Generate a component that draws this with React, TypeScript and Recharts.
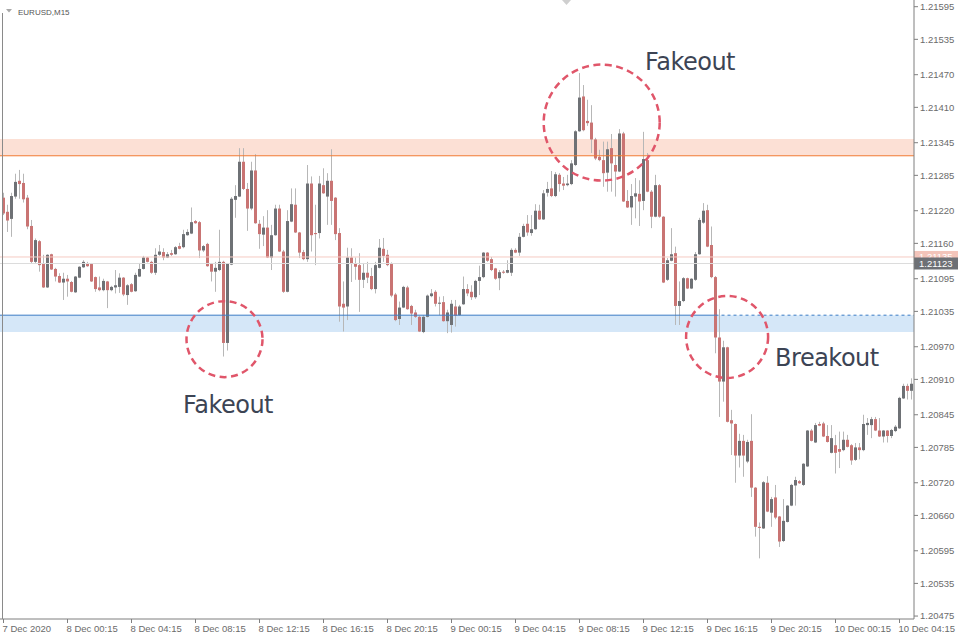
import React from 'react';
import {
  ComposedChart,
  Bar,
  XAxis,
  YAxis,
  ReferenceArea,
  ReferenceLine,
  ReferenceDot,
} from 'recharts';

// EURUSD M15 candles, 7 Dec 2020 20:15 -> 10 Dec 05:00
const OPEN = [
  1.21244, 1.21218, 1.21205, 1.21246, 1.21275, 1.21271, 1.21244, 1.21192, 1.21126, 1.21164,
  1.21122, 1.21079, 1.2114, 1.21113, 1.211, 1.21088, 1.21095, 1.21089, 1.2107, 1.21097,
  1.21116, 1.21123, 1.21122, 1.21098, 1.21079, 1.21074, 1.2109, 1.21074, 1.21079, 1.2108,
  1.21097, 1.21065, 1.21085, 1.21072, 1.21099, 1.21113, 1.21134, 1.21126, 1.21106, 1.21139,
  1.21144, 1.21134, 1.21142, 1.2114, 1.21155, 1.21153, 1.21175, 1.21178, 1.21201, 1.21199,
  1.21147, 1.21159, 1.21122, 1.21108, 1.21111, 1.21126, 1.20977, 1.21121, 1.2124, 1.21246,
  1.2131, 1.2126, 1.21224, 1.21294, 1.21196, 1.21176, 1.21189, 1.21134, 1.21175, 1.21224,
  1.21145, 1.21071, 1.212, 1.21231, 1.2118, 1.21144, 1.21131, 1.2127, 1.21179, 1.21179,
  1.21267, 1.21246, 1.21275, 1.21244, 1.21179, 1.21049, 1.21044, 1.21134, 1.21122, 1.2112,
  1.21093, 1.21106, 1.211, 1.21076, 1.21115, 1.2115, 1.21139, 1.21122, 1.21066, 1.21021,
  1.21042, 1.21079, 1.21045, 1.21033, 1.21025, 1.20997, 1.21025, 1.21063, 1.21071, 1.21049,
  1.21052, 1.21017, 1.2101, 1.21044, 1.21028, 1.21048, 1.21076, 1.21071, 1.21061, 1.21091,
  1.21098, 1.21143, 1.21131, 1.21114, 1.21096, 1.21108, 1.21106, 1.21106, 1.21148, 1.21143,
  1.21172, 1.21196, 1.21179, 1.21186, 1.2122, 1.21204, 1.21253, 1.21261, 1.21247, 1.21286,
  1.2127, 1.21267, 1.21269, 1.21304, 1.21366, 1.2143, 1.21385, 1.21382, 1.21351, 1.21319,
  1.21313, 1.2129, 1.21335, 1.21304, 1.21292, 1.21362, 1.21238, 1.21226, 1.21246, 1.21251,
  1.21238, 1.21313, 1.21255, 1.21209, 1.21267, 1.21209, 1.21093, 1.21128, 1.21142, 1.21045,
  1.21054, 1.21096, 1.21077, 1.21093, 1.2114, 1.21198, 1.21221, 1.21157, 1.21098, 1.20987,
  1.20906, 1.20969, 1.20835, 1.20828, 1.2077, 1.20797, 1.20759, 1.20797, 1.20711, 1.20639,
  1.20636, 1.2072, 1.20665, 1.20693, 1.20658, 1.20613, 1.20648, 1.20678, 1.20715, 1.20723,
  1.20716, 1.2075, 1.20816, 1.20794, 1.20828, 1.20829, 1.20806, 1.20775, 1.20789, 1.20782,
  1.2078, 1.20799, 1.20789, 1.20762, 1.20785, 1.2078, 1.20826, 1.20826, 1.20837, 1.20816,
  1.20805, 1.20816, 1.20806, 1.20815, 1.2082, 1.20875, 1.20898, 1.20889,
];

const HIGH = [
  1.21253, 1.21231, 1.21253, 1.21288, 1.21295, 1.21288, 1.21249, 1.21203, 1.21169, 1.21166,
  1.21139, 1.2114, 1.21141, 1.21115, 1.21105, 1.21106, 1.21102, 1.21091, 1.211, 1.21118,
  1.21129, 1.21126, 1.21124, 1.21099, 1.21099, 1.21095, 1.21091, 1.21082, 1.21111, 1.21105,
  1.21098, 1.21085, 1.21087, 1.21106, 1.21124, 1.21137, 1.21135, 1.21128, 1.21151, 1.21157,
  1.21151, 1.21144, 1.21148, 1.21155, 1.21161, 1.21185, 1.21186, 1.21226, 1.21203, 1.21201,
  1.21157, 1.21161, 1.21124, 1.21126, 1.21185, 1.21128, 1.21124, 1.21245, 1.21267, 1.21335,
  1.21335, 1.21271, 1.2131, 1.21324, 1.21203, 1.2121, 1.21221, 1.21194, 1.21231, 1.21231,
  1.21148, 1.21221, 1.21261, 1.21261, 1.21181, 1.21148, 1.21304, 1.21283, 1.21231, 1.21284,
  1.21298, 1.21289, 1.21333, 1.21245, 1.21188, 1.2109, 1.21152, 1.21151, 1.21134, 1.21142,
  1.21124, 1.21126, 1.21115, 1.21126, 1.21168, 1.2117, 1.21148, 1.21125, 1.21069, 1.21053,
  1.21082, 1.21082, 1.21047, 1.21038, 1.21027, 1.21028, 1.21066, 1.21076, 1.21074, 1.21062,
  1.21063, 1.21038, 1.21056, 1.21056, 1.21047, 1.21099, 1.21085, 1.21083, 1.21093, 1.21119,
  1.21144, 1.21144, 1.21135, 1.21115, 1.21111, 1.21111, 1.21129, 1.21151, 1.21151, 1.21179,
  1.21196, 1.21212, 1.21212, 1.21232, 1.21231, 1.21258, 1.21273, 1.21293, 1.21291, 1.21289,
  1.21282, 1.21286, 1.21313, 1.21368, 1.21473, 1.21451, 1.21424, 1.21414, 1.21354, 1.21332,
  1.21347, 1.21347, 1.21361, 1.21322, 1.2137, 1.21365, 1.21258, 1.21269, 1.2128, 1.21276,
  1.21365, 1.21326, 1.21258, 1.21286, 1.21269, 1.2121, 1.21133, 1.21188, 1.21154, 1.2109,
  1.21098, 1.21097, 1.21096, 1.21144, 1.21207, 1.21234, 1.21231, 1.21191, 1.211, 1.21039,
  1.20981, 1.2097, 1.20854, 1.20829, 1.2081, 1.20808, 1.20799, 1.20846, 1.20712, 1.20647,
  1.20723, 1.20732, 1.20694, 1.20716, 1.20659, 1.2069, 1.20679, 1.20718, 1.20731, 1.20725,
  1.20756, 1.20817, 1.20819, 1.2083, 1.20832, 1.20832, 1.20826, 1.20826, 1.20808, 1.20814,
  1.20814, 1.20808, 1.20791, 1.20793, 1.20793, 1.20845, 1.20839, 1.20841, 1.20841, 1.20839,
  1.20817, 1.20817, 1.20819, 1.20826, 1.20878, 1.20902, 1.20902, 1.20912,
];

const LOW = [
  1.21212, 1.21181, 1.21172, 1.21242, 1.21242, 1.21235, 1.21186, 1.21124, 1.21124, 1.21108,
  1.21078, 1.21078, 1.21111, 1.2109, 1.21087, 1.21056, 1.21062, 1.2107, 1.21069, 1.21096,
  1.21115, 1.21117, 1.21089, 1.21071, 1.21072, 1.21072, 1.21041, 1.21072, 1.21068, 1.21069,
  1.21063, 1.21047, 1.2107, 1.21071, 1.21098, 1.21112, 1.21125, 1.21104, 1.21102, 1.21137,
  1.21129, 1.21133, 1.21137, 1.21139, 1.21149, 1.21151, 1.21174, 1.21177, 1.21196, 1.21133,
  1.21144, 1.21117, 1.2109, 1.21071, 1.21109, 1.20952, 1.20963, 1.2112, 1.21207, 1.21245,
  1.21258, 1.21183, 1.21221, 1.21196, 1.2115, 1.21155, 1.21133, 1.21111, 1.21174, 1.21144,
  1.21069, 1.2107, 1.21199, 1.21179, 1.21133, 1.21129, 1.21126, 1.21145, 1.2112, 1.21169,
  1.21251, 1.21194, 1.21194, 1.21166, 1.21016, 1.20998, 1.21019, 1.21089, 1.21093, 1.21034,
  1.21078, 1.21087, 1.21074, 1.21068, 1.21114, 1.21126, 1.21118, 1.21061, 1.21017, 1.2101,
  1.21041, 1.21038, 1.2101, 1.21023, 1.20997, 1.20995, 1.21024, 1.21061, 1.21044, 1.21028,
  1.21016, 1.20995, 1.20996, 1.21007, 1.21027, 1.21047, 1.21063, 1.21056, 1.21058, 1.21065,
  1.21096, 1.21126, 1.21109, 1.21093, 1.21074, 1.21104, 1.21105, 1.211, 1.21142, 1.21137,
  1.21171, 1.21174, 1.21174, 1.21185, 1.21203, 1.21203, 1.21246, 1.21245, 1.21245, 1.21255,
  1.21258, 1.21265, 1.21267, 1.21302, 1.21365, 1.21366, 1.21376, 1.21326, 1.21313, 1.21311,
  1.21264, 1.21255, 1.21255, 1.21246, 1.21291, 1.21236, 1.21225, 1.21194, 1.21206, 1.21192,
  1.21221, 1.21254, 1.21188, 1.21208, 1.21207, 1.21087, 1.21091, 1.21127, 1.2101, 1.2101,
  1.21052, 1.21076, 1.21076, 1.21091, 1.21139, 1.21196, 1.21153, 1.21096, 1.20958, 1.20841,
  1.20869, 1.20831, 1.20771, 1.2072, 1.20748, 1.20731, 1.20756, 1.20694, 1.20621, 1.20581,
  1.20635, 1.20666, 1.20639, 1.20653, 1.20602, 1.20611, 1.20647, 1.20677, 1.20678, 1.20718,
  1.20714, 1.20749, 1.20796, 1.20793, 1.20824, 1.20804, 1.20794, 1.20774, 1.20737, 1.20747,
  1.20778, 1.20785, 1.20753, 1.2076, 1.20763, 1.20778, 1.20808, 1.20802, 1.20815, 1.20804,
  1.20794, 1.20794, 1.20802, 1.20813, 1.20819, 1.20874, 1.20873, 1.20873,
];

const CLOSE = [
  1.21215, 1.21202, 1.21247, 1.21273, 1.21269, 1.21241, 1.21191, 1.21126, 1.21166, 1.2112,
  1.21079, 1.21139, 1.21112, 1.21099, 1.21088, 1.21095, 1.2109, 1.21071, 1.21099, 1.21117,
  1.21126, 1.21118, 1.2109, 1.21076, 1.21074, 1.21091, 1.21074, 1.2108, 1.21083, 1.21097,
  1.21066, 1.21083, 1.21071, 1.21102, 1.21113, 1.21134, 1.21126, 1.21106, 1.21139, 1.21145,
  1.21134, 1.2114, 1.21139, 1.21153, 1.2115, 1.21177, 1.21181, 1.21199, 1.21197, 1.21147,
  1.21155, 1.21118, 1.21108, 1.21115, 1.21126, 1.20977, 1.21123, 1.21242, 1.21247, 1.2131,
  1.2126, 1.21224, 1.21294, 1.21197, 1.21177, 1.21189, 1.21134, 1.21175, 1.21224, 1.21145,
  1.21071, 1.21201, 1.21232, 1.2118, 1.21143, 1.21131, 1.2127, 1.21175, 1.21177, 1.2127,
  1.21252, 1.21275, 1.21238, 1.21177, 1.21044, 1.21042, 1.21134, 1.21122, 1.21117, 1.21093,
  1.21106, 1.21097, 1.21076, 1.2112, 1.21152, 1.21137, 1.2112, 1.21064, 1.21019, 1.21042,
  1.2108, 1.21039, 1.21031, 1.21025, 1.20998, 1.21025, 1.21064, 1.21068, 1.21049, 1.21051,
  1.21017, 1.21033, 1.21049, 1.21027, 1.21044, 1.21076, 1.21068, 1.21061, 1.21091, 1.21098,
  1.21143, 1.21128, 1.21111, 1.21095, 1.21107, 1.21106, 1.21111, 1.21148, 1.21143, 1.21172,
  1.21192, 1.2118, 1.21186, 1.2122, 1.21204, 1.21252, 1.2126, 1.21247, 1.21287, 1.21269,
  1.21266, 1.2127, 1.21307, 1.21366, 1.21428, 1.21368, 1.21381, 1.21351, 1.21316, 1.21313,
  1.21289, 1.21333, 1.21307, 1.21292, 1.21362, 1.21237, 1.21226, 1.21247, 1.21252, 1.21237,
  1.21315, 1.21255, 1.21209, 1.21267, 1.21209, 1.21088, 1.21129, 1.2114, 1.21045, 1.21054,
  1.21096, 1.21077, 1.21095, 1.2114, 1.21203, 1.2122, 1.21154, 1.21098, 1.20987, 1.20906,
  1.20969, 1.20832, 1.20829, 1.2077, 1.20797, 1.2077, 1.20795, 1.20711, 1.20639, 1.20637,
  1.20721, 1.20667, 1.2069, 1.20656, 1.20612, 1.2065, 1.20678, 1.20716, 1.20725, 1.20719,
  1.20755, 1.20816, 1.20797, 1.20826, 1.20825, 1.20805, 1.20795, 1.20802, 1.20775, 1.20777,
  1.20799, 1.20786, 1.20761, 1.20785, 1.2078, 1.20828, 1.2083, 1.20837, 1.20816, 1.20805,
  1.20816, 1.20806, 1.20817, 1.20823, 1.20876, 1.20898, 1.20889, 1.20902,
];

// every 16th bar (4 hours)
const TIME_TICKS = [0, 16, 32, 48, 64, 80, 96, 112, 128, 144, 160, 176, 192, 208, 224];
const TIME_LABELS = [
  '7 Dec 2020', '8 Dec 00:15', '8 Dec 04:15', '8 Dec 08:15', '8 Dec 12:15',
  '8 Dec 16:15', '8 Dec 20:15', '9 Dec 00:15', '9 Dec 04:15', '9 Dec 08:15',
  '9 Dec 12:15', '9 Dec 16:15', '9 Dec 20:15', '10 Dec 00:15', '10 Dec 04:15',
];

const PRICE_TICKS = [
  1.21595, 1.21535, 1.2147, 1.2141, 1.21345, 1.21285, 1.2122, 1.2116, 1.21095, 1.21035,
  1.2097, 1.2091, 1.20845, 1.20785, 1.2072, 1.2066, 1.20595, 1.20535, 1.20475,
];

const RESIST_ZONE = [1.21321, 1.21352];
const SUPPORT_ZONE = [1.20997, 1.21028];
const ASK_LEVEL = 1.21135;
const BID_LEVEL = 1.21123;
const SUPPORT_LINE_END = 178; // bar where the drawn support line stops

const X_DOMAIN: [number, number] = [-0.875, 227.625];
const Y_DOMAIN: [number, number] = [1.204696, 1.216073];

const AXIS_FONT = '"Liberation Sans", Arial, sans-serif';
const HAND_FONT = '"DejaVu Sans", sans-serif';
const RED = '#c97473';
const GREY = '#6e7175';
const WICK = '#b7b7b7';
const RING = '#e0566a';
const INK = '#3c4454';

const data = OPEN.map((open, i) => ({
  i,
  open,
  high: HIGH[i],
  low: LOW[i],
  close: CLOSE[i],
  range: [LOW[i], HIGH[i]],
}));

const Candle = (props: any) => {
  const { x, y, width, height, payload } = props;
  if (x == null || y == null) return null;
  const { open, close, high, low } = payload;
  const top = Math.min(y, y + height);
  const h = Math.abs(height);
  const cx = Math.round(x + width / 2 - 0.5) + 0.5;
  const toY = (p: number) => top + ((high - p) / (high - low || 1)) * h;
  const up = close >= open;
  const bTop = toY(Math.max(open, close));
  const bBot = toY(Math.min(open, close));
  return (
    <g>
      <line x1={cx} x2={cx} y1={top} y2={top + h} stroke={WICK} strokeWidth={1} />
      <rect
        x={cx - 1.5}
        y={bTop}
        width={3}
        height={Math.max(1, bBot - bTop)}
        fill={up ? GREY : RED}
      />
    </g>
  );
};

const TimeTick = ({ x, y, payload }: any) => {
  const idx = TIME_TICKS.indexOf(payload.value);
  return (
    <text x={x - 1} y={y} dy="0.71em" fontSize={9.5} fontFamily={AXIS_FONT} fill="#6b6b6b" textAnchor="start">
      {TIME_LABELS[idx]}
    </text>
  );
};

const PriceTag = ({ viewBox, text, bg }: any) => {
  if (!viewBox) return null;
  const left = viewBox.x + viewBox.width;
  return (
    <g>
      <rect x={left} y={viewBox.y - 6} width={44} height={12} fill={bg} />
      <text x={left + 5} y={viewBox.y} dy="0.35em" fontSize={9.5} fontFamily={AXIS_FONT} fill="#ffffff">
        {text}
      </text>
    </g>
  );
};

const ring = (r: number) => (p: any) => (
  <circle cx={p.cx} cy={p.cy} r={r} fill="none" stroke={RING} strokeWidth={2.5} strokeDasharray="7 4.5" />
);

const note = (text: string) => (p: any) => (
  <text x={p.cx} y={p.cy} fontSize={24} letterSpacing={-0.5} fontFamily={HAND_FONT} fill={INK}>
    {text}
  </text>
);

export default function App() {
  return (
    <div style={{ position: 'relative', width: 960, height: 640, background: '#ffffff' }}>
      <style>{'body{margin:0;background:#fff}'}</style>
      <ComposedChart width={960} height={640} data={data} margin={{ top: 0, right: 0, bottom: 0, left: 0 }}>
        <XAxis
          dataKey="i"
          type="number"
          domain={X_DOMAIN}
          allowDataOverflow
          ticks={TIME_TICKS}
          interval={0}
          tick={<TimeTick />}
          tickSize={4}
          height={21}
          stroke="#7f7f7f"
        />
        <YAxis
          orientation="right"
          type="number"
          domain={Y_DOMAIN}
          allowDataOverflow
          ticks={PRICE_TICKS}
          interval={0}
          width={46}
          tickSize={4}
          stroke="#7f7f7f"
          tick={{ fontSize: 9.5, fill: '#6b6b6b', fontFamily: AXIS_FONT }}
          tickFormatter={(v: number) => v.toFixed(5)}
        />

        <ReferenceArea y1={RESIST_ZONE[0]} y2={RESIST_ZONE[1]} fill="#fce0d5" fillOpacity={1} stroke="none" />
        <ReferenceArea y1={SUPPORT_ZONE[0]} y2={SUPPORT_ZONE[1]} fill="#d5e7f8" fillOpacity={1} stroke="none" />

        <ReferenceLine y={RESIST_ZONE[0]} stroke="#f07a32" strokeWidth={1} />
        <ReferenceLine
          segment={[{ x: X_DOMAIN[0], y: SUPPORT_ZONE[1] }, { x: SUPPORT_LINE_END, y: SUPPORT_ZONE[1] }]}
          stroke="#3a7cc4"
          strokeWidth={1}
        />
        <ReferenceLine
          segment={[{ x: SUPPORT_LINE_END, y: SUPPORT_ZONE[1] }, { x: X_DOMAIN[1], y: SUPPORT_ZONE[1] }]}
          stroke="#3a7cc4"
          strokeWidth={1}
          strokeDasharray="3 3"
        />
        <ReferenceLine
          y={ASK_LEVEL}
          stroke="#f5cbc2"
          label={(p: any) => <PriceTag viewBox={p.viewBox} text={ASK_LEVEL.toFixed(5)} bg="#f3c4ba" />}
        />
        <ReferenceLine
          y={BID_LEVEL}
          stroke="#dcdcdc"
          label={(p: any) => <PriceTag viewBox={p.viewBox} text={BID_LEVEL.toFixed(5)} bg="#6d7075" />}
        />

        <Bar dataKey="range" barSize={3} isAnimationActive={false} shape={(p: any) => <Candle {...p} />} />

        <ReferenceDot x={55.25} y={1.20984} r={38} shape={ring(38)} />
        <ReferenceDot x={149.55} y={1.21382} r={58} shape={ring(58)} />
        <ReferenceDot x={180.9} y={1.20988} r={41} shape={ring(41)} />

        <ReferenceDot x={44.9} y={1.20848} r={1} shape={note('Fakeout')} />
        <ReferenceDot x={160.4} y={1.21479} r={1} shape={note('Fakeout')} />
        <ReferenceDot x={192.9} y={1.20935} r={1} shape={note('Breakout')} />
      </ComposedChart>

      <svg width={960} height={640} style={{ position: 'absolute', left: 0, top: 0, pointerEvents: 'none' }}>
        <line x1={2.5} x2={2.5} y1={13} y2={619} stroke="#8a8a8a" strokeWidth={1} />
        <polygon points="6,9 12,9 9,12.5" fill="#a8a8a8" />
        <text x={18} y={15} fontSize={8} fontFamily={AXIS_FONT} fill="#555555">EURUSD,M15</text>
        <polygon points="562,0 571,0 566.5,5" fill="#cfcfcf" />
      </svg>
    </div>
  );
}
